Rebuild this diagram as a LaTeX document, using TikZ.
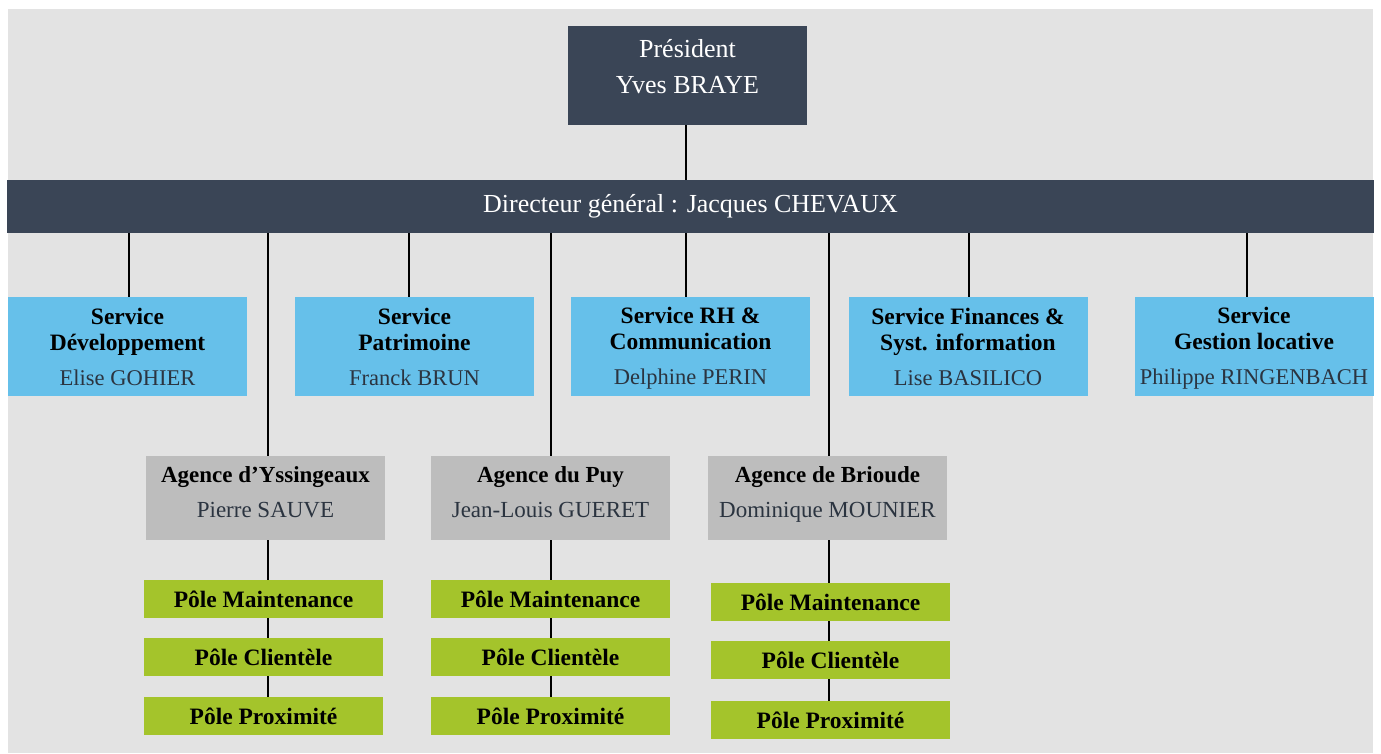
\documentclass[tikz,border=0pt]{standalone}
\usepackage{fontspec}
\setmainfont{Liberation Serif}
\definecolor{navy}{HTML}{3A4556}
\definecolor{skyb}{HTML}{66C0EA}
\definecolor{agray}{HTML}{BDBDBD}
\definecolor{lgreen}{HTML}{A4C42B}
\definecolor{bggray}{HTML}{E3E3E3}
\definecolor{namecol}{HTML}{2B3440}
\newcommand{\tstr}[1]{\rule{0pt}{#1}}
\newcommand{\bstr}[1]{\rule[-#1]{0pt}{#1}}
\pgfdeclarelayer{bg}\pgfdeclarelayer{ln}
\pgfsetlayers{bg,ln,main}
\begin{document}
\begin{tikzpicture}[x=1pt,y=-1pt,
 box/.style={inner sep=0pt, minimum width=239pt, align=center},
 navybox/.style={box, fill=navy, text=white, font=\fontsize{26}{36}\selectfont},
 svc/.style={box, fill=skyb, minimum height=99pt, font=\fontsize{23.5}{26}\selectfont},
 agc/.style={box, fill=agray, minimum height=84pt, font=\fontsize{23}{35}\selectfont},
 pole/.style={box, fill=lgreen, minimum height=38pt, font=\bfseries\fontsize{23.5}{26}\selectfont},
 conn/.style={line width=2pt, draw=black}]
\useasboundingbox (0,0) rectangle (1381,753);
\begin{pgfonlayer}{bg}
\fill[white] (0,0) rectangle (1381,753);
\fill[bggray] (8,9) rectangle (1373,753);
\end{pgfonlayer}

% President and director bar
\node[navybox, minimum height=99pt] (pres) at (687.5,75.5) {\tstr{20pt}Président\\Yves BRAYE\bstr{21pt}};
\node[navybox, minimum width=1367pt, minimum height=53pt] (bar) at (690.5,206.5) {Directeur général : Jacques CHEVAUX};

% Services
\node[svc] (s1) at (127.5,346.5) {\tstr{20pt}\textbf{Service}\\\textbf{Développement}\\[9pt]\textcolor{namecol}{\fontsize{22.5}{26}\selectfont Elise GOHIER}\bstr{4pt}};
\node[svc] (s2) at (414.5,346.5) {\tstr{20pt}\textbf{Service}\\\textbf{Patrimoine}\\[9pt]\textcolor{namecol}{\fontsize{22.5}{26}\selectfont Franck BRUN}\bstr{4pt}};
\node[svc] (s3) at (690.5,346.5) {\tstr{20pt}\textbf{Service RH \&}\\\textbf{Communication}\\[9pt]\textcolor{namecol}{\fontsize{22.5}{26}\selectfont Delphine PERIN}\bstr{4pt}};
\node[svc] (s4) at (968,346.5) {\tstr{20pt}\textbf{Service Finances \&}\\\textbf{Syst. information}\\[9pt]\textcolor{namecol}{\fontsize{22.5}{26}\selectfont Lise BASILICO}\bstr{4pt}};
\node[svc] (s5) at (1254,346.5) {\tstr{20pt}\textbf{Service}\\\textbf{Gestion locative}\\[9pt]\textcolor{namecol}{\fontsize{22.5}{26}\selectfont Philippe RINGENBACH}\bstr{4pt}};

% Agencies
\node[agc] (a1) at (265.5,498) {\tstr{20pt}\textbf{Agence d’Yssingeaux}\\\textcolor{namecol}{Pierre SAUVE}\bstr{17pt}};
\node[agc] (a2) at (550.5,498) {\tstr{20pt}\textbf{Agence du Puy}\\\textcolor{namecol}{Jean-Louis GUERET}\bstr{17pt}};
\node[agc] (a3) at (827.5,498) {\tstr{20pt}\textbf{Agence de Brioude}\\\textcolor{namecol}{Dominique MOUNIER}\bstr{17pt}};

% Poles
\node[pole] (p11) at (263.5,599) {Pôle Maintenance};
\node[pole] (p12) at (263.5,657) {Pôle Clientèle};
\node[pole] (p13) at (263.5,716) {Pôle Proximité};
\node[pole] (p21) at (550.5,599) {Pôle Maintenance};
\node[pole] (p22) at (550.5,657) {Pôle Clientèle};
\node[pole] (p23) at (550.5,716) {Pôle Proximité};
\node[pole] (p31) at (830.5,602) {Pôle Maintenance};
\node[pole] (p32) at (830.5,660) {Pôle Clientèle};
\node[pole] (p33) at (830.5,720) {Pôle Proximité};

% Connectors
\begin{pgfonlayer}{ln}
\draw[conn] ([xshift=-2pt]pres.south) -- ([xshift=-2pt]pres.south |- bar.north);
\draw[conn] ([xshift=1.5pt]s1.north) -- ([xshift=1.5pt]s1.north |- bar.south);
\draw[conn] ([xshift=-5.5pt]s2.north) -- ([xshift=-5.5pt]s2.north |- bar.south);
\draw[conn] ([xshift=-4.5pt]s3.north) -- ([xshift=-4.5pt]s3.north |- bar.south);
\draw[conn] ([xshift=1pt]s4.north) -- ([xshift=1pt]s4.north |- bar.south);
\draw[conn] ([xshift=-7pt]s5.north) -- ([xshift=-7pt]s5.north |- bar.south);
\draw[conn] ([xshift=2.5pt]a1.north) -- ([xshift=2.5pt]a1.north |- bar.south);
\draw[conn] ([xshift=0.5pt]a2.north) -- ([xshift=0.5pt]a2.north |- bar.south);
\draw[conn] ([xshift=1.5pt]a3.north) -- ([xshift=1.5pt]a3.north |- bar.south);
\draw[conn] ([xshift=2.5pt]a1.south) -- ([xshift=2.5pt]a1.south |- p13.center);
\draw[conn] ([xshift=0.5pt]a2.south) -- ([xshift=0.5pt]a2.south |- p23.center);
\draw[conn] ([xshift=1.5pt]a3.south) -- ([xshift=1.5pt]a3.south |- p33.center);
\end{pgfonlayer}
\end{tikzpicture}
\end{document}
